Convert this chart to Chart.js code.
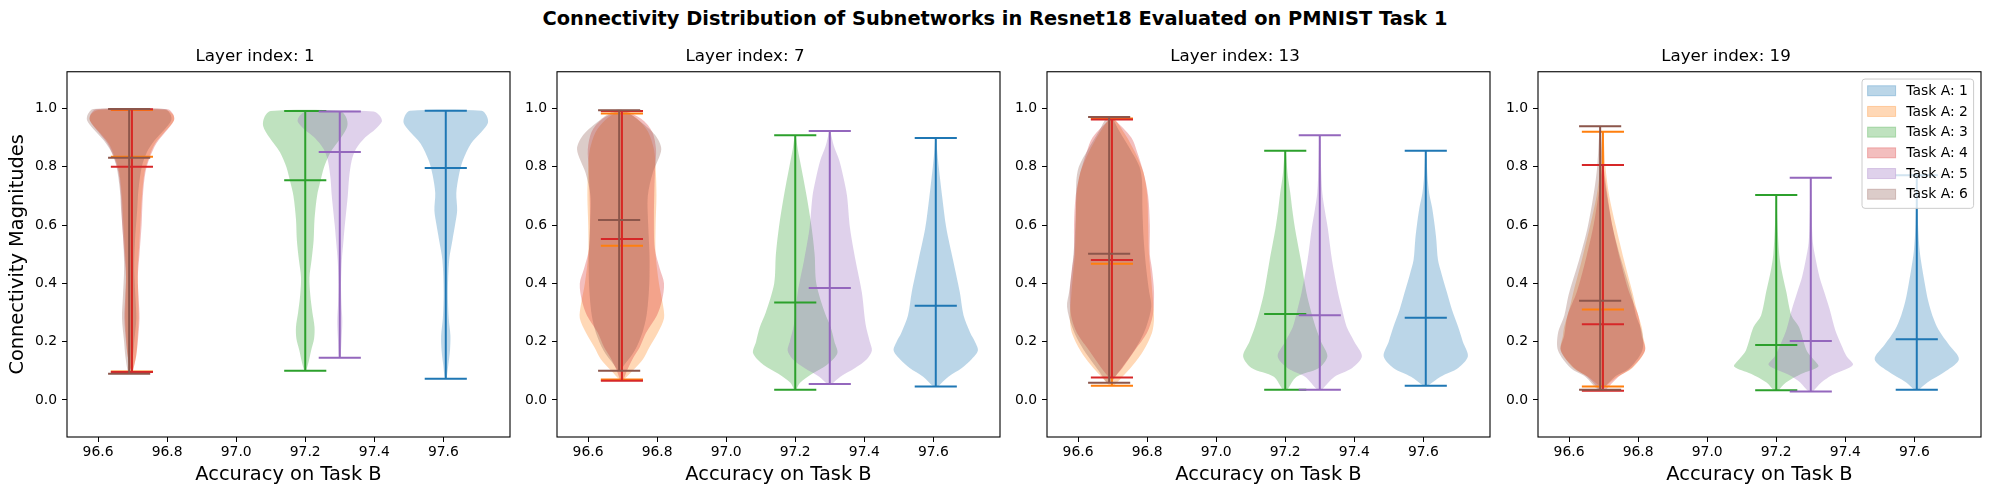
<!DOCTYPE html>
<html>
<head>
<meta charset="utf-8">
<script src="https://cdn.jsdelivr.net/npm/chart.js@4.4.0/dist/chart.umd.min.js"></script>
<style>
    body { margin: 0; background: #fff; width: 1990px; height: 495px; position: relative; overflow: hidden; font-family: "DejaVu Sans", sans-serif; }
    #suptitle { position: absolute; left: 0; top: 8px; width: 1990px; text-align: center; font-weight: bold; font-size: 19.4px; line-height: 22px; color: #000; }
    canvas { position: absolute; }
</style>
</head>
<body>
<div id="suptitle">Connectivity Distribution of Subnetworks in Resnet18 Evaluated on PMNIST Task 1</div>
<script>
// ---- data -------------------------------------------------------------
const LAYERS = [1, 7, 13, 19];
const TASK_LABELS = ['Task A: 1', 'Task A: 2', 'Task A: 3', 'Task A: 4', 'Task A: 5', 'Task A: 6'];
const TASK_COLORS = ['#1f77b4', '#ff7f0e', '#2ca02c', '#d62728', '#9467bd', '#8c564b'];
// accuracy on task B for each task A (violin positions)
const POSITIONS = [97.607, 96.698, 97.2, 96.698, 97.3, 96.69];

const X_TICKS = [96.6, 96.8, 97.0, 97.2, 97.4, 97.6];
const Y_TICKS = [0.0, 0.2, 0.4, 0.6, 0.8, 1.0];

// min / max / mean per task, one list per layer
const MIN_L1 = [0.073, 0.098, 0.100, 0.096, 0.145, 0.090];
const MAX_L1 = [0.992, 0.995, 0.991, 0.997, 0.990, 0.998];
const MEAN_L1 = [0.796, 0.834, 0.754, 0.800, 0.851, 0.831];

const MIN_L7 = [0.046, 0.070, 0.035, 0.066, 0.055, 0.100];
const MAX_L7 = [0.899, 0.983, 0.908, 0.991, 0.923, 0.994];
const MEAN_L7 = [0.323, 0.529, 0.334, 0.552, 0.384, 0.617];

const MIN_L13 = [0.049, 0.049, 0.035, 0.077, 0.035, 0.059];
const MAX_L13 = [0.855, 0.966, 0.855, 0.962, 0.908, 0.971];
const MEAN_L13 = [0.282, 0.467, 0.295, 0.480, 0.291, 0.502];

const MIN_L19 = [0.035, 0.046, 0.033, 0.032, 0.029, 0.035];
const MAX_L19 = [0.771, 0.920, 0.703, 0.806, 0.762, 0.939];
const MEAN_L19 = [0.208, 0.310, 0.189, 0.260, 0.202, 0.340];

// density outlines: [magnitude, relative half width]
const L1_T1 = [[0.073,0.02],[0.12,0.06],[0.17,0.10],[0.22,0.11],[0.28,0.07],[0.37,0.05],[0.48,0.08],[0.55,0.16],[0.60,0.22],[0.65,0.27],[0.71,0.25],[0.77,0.31],[0.82,0.40],[0.88,0.60],[0.92,0.85],[0.95,1.0],[0.975,0.97],[0.992,0.85]];
const L1_T2 = [[0.098,0.02],[0.15,0.10],[0.20,0.13],[0.28,0.16],[0.35,0.15],[0.45,0.14],[0.50,0.16],[0.60,0.20],[0.70,0.24],[0.78,0.30],[0.83,0.40],[0.88,0.55],[0.92,0.78],[0.96,1.0],[0.98,0.97],[0.995,0.80]];
const L1_T3 = [[0.100,0.02],[0.13,0.08],[0.17,0.14],[0.21,0.21],[0.25,0.22],[0.30,0.17],[0.36,0.12],[0.42,0.10],[0.48,0.15],[0.55,0.20],[0.62,0.22],[0.70,0.28],[0.75,0.36],[0.80,0.45],[0.85,0.60],[0.90,0.85],[0.94,1.0],[0.97,0.97],[0.991,0.82]];
const L1_T4 = [[0.096,0.02],[0.15,0.10],[0.20,0.14],[0.28,0.18],[0.35,0.16],[0.42,0.14],[0.50,0.18],[0.60,0.23],[0.70,0.26],[0.78,0.32],[0.83,0.42],[0.88,0.58],[0.92,0.80],[0.96,1.0],[0.98,0.98],[0.997,0.85]];
const L1_T5 = [[0.145,0.02],[0.20,0.04],[0.27,0.06],[0.33,0.04],[0.40,0.03],[0.48,0.05],[0.55,0.09],[0.60,0.12],[0.70,0.19],[0.76,0.22],[0.82,0.28],[0.86,0.38],[0.90,0.60],[0.93,0.85],[0.955,1.0],[0.975,0.95],[0.990,0.80]];
const L1_T6 = [[0.090,0.02],[0.15,0.09],[0.20,0.12],[0.28,0.17],[0.35,0.15],[0.45,0.12],[0.55,0.14],[0.65,0.19],[0.72,0.22],[0.80,0.30],[0.85,0.42],[0.89,0.60],[0.93,0.85],[0.96,1.0],[0.98,0.98],[0.998,0.85]];

const L7_T1 = [[0.046,0.05],[0.08,0.30],[0.11,0.62],[0.14,0.85],[0.17,1.0],[0.20,0.93],[0.23,0.82],[0.29,0.66],[0.37,0.57],[0.48,0.41],[0.59,0.25],[0.70,0.15],[0.80,0.07],[0.86,0.03],[0.899,0.01]];
const L7_T2 = [[0.070,0.05],[0.10,0.25],[0.14,0.50],[0.18,0.65],[0.23,0.85],[0.28,1.0],[0.33,0.97],[0.40,0.88],[0.50,0.80],[0.60,0.80],[0.70,0.82],[0.80,0.80],[0.86,0.76],[0.92,0.62],[0.96,0.40],[0.983,0.15]];
const L7_T3 = [[0.035,0.02],[0.06,0.12],[0.09,0.40],[0.12,0.75],[0.16,1.0],[0.20,0.93],[0.25,0.84],[0.30,0.70],[0.40,0.50],[0.50,0.46],[0.60,0.38],[0.70,0.27],[0.80,0.14],[0.86,0.06],[0.908,0.01]];
const L7_T4 = [[0.066,0.03],[0.10,0.12],[0.14,0.25],[0.18,0.42],[0.23,0.57],[0.29,0.83],[0.34,0.95],[0.40,1.0],[0.45,0.90],[0.52,0.78],[0.62,0.76],[0.72,0.77],[0.80,0.79],[0.86,0.81],[0.92,0.72],[0.96,0.50],[0.991,0.10]];
const L7_T5 = [[0.055,0.05],[0.08,0.25],[0.11,0.60],[0.14,0.88],[0.17,1.0],[0.20,0.95],[0.26,0.85],[0.37,0.76],[0.48,0.61],[0.59,0.48],[0.70,0.41],[0.76,0.33],[0.82,0.23],[0.87,0.10],[0.923,0.01]];
const L7_T6 = [[0.100,0.02],[0.12,0.12],[0.17,0.37],[0.23,0.55],[0.29,0.65],[0.36,0.70],[0.42,0.72],[0.50,0.72],[0.60,0.69],[0.70,0.68],[0.78,0.80],[0.86,1.0],[0.91,0.85],[0.96,0.46],[0.994,0.10]];

const L13_T1 = [[0.049,0.05],[0.08,0.35],[0.11,0.77],[0.15,1.0],[0.20,0.88],[0.25,0.77],[0.31,0.62],[0.37,0.50],[0.43,0.38],[0.48,0.29],[0.55,0.25],[0.60,0.21],[0.66,0.15],[0.71,0.08],[0.77,0.04],[0.855,0.01]];
const L13_T2 = [[0.049,0.05],[0.08,0.25],[0.12,0.50],[0.17,0.75],[0.23,0.95],[0.28,1.0],[0.35,0.97],[0.42,0.93],[0.50,0.88],[0.60,0.86],[0.70,0.84],[0.78,0.75],[0.85,0.55],[0.91,0.32],[0.966,0.05]];
const L13_T3 = [[0.035,0.05],[0.08,0.27],[0.11,0.80],[0.15,1.0],[0.20,0.85],[0.25,0.72],[0.31,0.60],[0.37,0.50],[0.48,0.37],[0.59,0.23],[0.65,0.17],[0.71,0.12],[0.77,0.06],[0.855,0.01]];
const L13_T4 = [[0.077,0.05],[0.11,0.25],[0.17,0.54],[0.23,0.83],[0.29,0.97],[0.37,1.0],[0.45,0.95],[0.50,0.90],[0.60,0.90],[0.70,0.86],[0.78,0.75],[0.85,0.60],[0.90,0.46],[0.962,0.05]];
const L13_T5 = [[0.035,0.05],[0.08,0.35],[0.11,0.77],[0.15,1.0],[0.20,0.82],[0.25,0.64],[0.31,0.53],[0.37,0.43],[0.48,0.29],[0.59,0.19],[0.65,0.12],[0.71,0.06],[0.80,0.03],[0.908,0.01]];
const L13_T6 = [[0.059,0.05],[0.10,0.25],[0.15,0.50],[0.20,0.72],[0.25,0.88],[0.32,1.0],[0.37,0.95],[0.45,0.88],[0.55,0.82],[0.65,0.79],[0.75,0.78],[0.80,0.72],[0.86,0.50],[0.92,0.25],[0.971,0.05]];

const L19_T1 = [[0.035,0.05],[0.06,0.25],[0.10,0.70],[0.14,1.0],[0.19,0.76],[0.24,0.52],[0.29,0.37],[0.34,0.27],[0.40,0.19],[0.45,0.13],[0.51,0.07],[0.60,0.03],[0.70,0.015],[0.771,0.005]];
const L19_T2 = [[0.046,0.05],[0.08,0.35],[0.11,0.70],[0.17,1.0],[0.22,0.95],[0.25,0.92],[0.31,0.80],[0.37,0.70],[0.48,0.50],[0.60,0.30],[0.70,0.15],[0.80,0.06],[0.920,0.01]];
const L19_T3 = [[0.033,0.05],[0.06,0.23],[0.09,0.60],[0.115,1.0],[0.14,0.88],[0.17,0.72],[0.25,0.54],[0.29,0.36],[0.37,0.24],[0.45,0.12],[0.50,0.07],[0.60,0.03],[0.703,0.005]];
const L19_T4 = [[0.032,0.05],[0.08,0.37],[0.11,0.68],[0.17,1.0],[0.22,0.92],[0.29,0.84],[0.37,0.62],[0.48,0.41],[0.60,0.22],[0.71,0.10],[0.806,0.01]];
const L19_T5 = [[0.029,0.05],[0.06,0.25],[0.085,0.50],[0.12,1.0],[0.15,0.85],[0.19,0.72],[0.24,0.58],[0.31,0.45],[0.37,0.32],[0.42,0.21],[0.48,0.12],[0.54,0.05],[0.65,0.02],[0.762,0.005]];
const L19_T6 = [[0.035,0.05],[0.08,0.35],[0.11,0.70],[0.17,1.0],[0.23,1.0],[0.29,0.85],[0.36,0.75],[0.48,0.50],[0.59,0.30],[0.71,0.15],[0.80,0.07],[0.939,0.01]];

// ---- layout -----------------------------------------------------------
const X_MIN = 96.51, X_MAX = 97.793;
const Y_MIN = -0.127, Y_MAX = 1.126;
const HALF_WIDTH = 0.122;   // violin half width in x units
const CAP = 0.061;          // half length of min/max/mean bars
const FONT = '"DejaVu Sans", sans-serif';

const panels = [
    { layer: LAYERS[0], mins: MIN_L1, maxs: MAX_L1, means: MEAN_L1, shapes: [L1_T1, L1_T2, L1_T3, L1_T4, L1_T5, L1_T6] },
    { layer: LAYERS[1], mins: MIN_L7, maxs: MAX_L7, means: MEAN_L7, shapes: [L7_T1, L7_T2, L7_T3, L7_T4, L7_T5, L7_T6] },
    { layer: LAYERS[2], mins: MIN_L13, maxs: MAX_L13, means: MEAN_L13, shapes: [L13_T1, L13_T2, L13_T3, L13_T4, L13_T5, L13_T6] },
    { layer: LAYERS[3], mins: MIN_L19, maxs: MAX_L19, means: MEAN_L19, shapes: [L19_T1, L19_T2, L19_T3, L19_T4, L19_T5, L19_T6] }
];

function rgba(hex, a) {
    const n = parseInt(hex.slice(1), 16);
    return `rgba(${(n >> 16) & 255},${(n >> 8) & 255},${n & 255},${a})`;
}

// frame around the plot area, plus the legend on the last panel
const framePlugin = {
    id: 'frame',
    afterDraw(chart) {
        const { ctx, chartArea: a } = chart;
        ctx.save();
        ctx.strokeStyle = '#000';
        ctx.lineWidth = 1.1;
        ctx.strokeRect(a.left, a.top, a.right - a.left, a.bottom - a.top);

        if (chart.options.plugins.frame && chart.options.plugins.frame.legend) {
            const w = 111.6, h = 129.3;
            const x0 = a.right - 7.4 - w, y0 = a.top + 7.3;
            ctx.fillStyle = 'rgba(255,255,255,0.8)';
            ctx.strokeStyle = '#cccccc';
            ctx.lineWidth = 1;
            ctx.beginPath();
            ctx.roundRect(x0, y0, w, h, 3);
            ctx.fill();
            ctx.stroke();
            ctx.font = `13.9px ${FONT}`;
            ctx.textBaseline = 'middle';
            TASK_LABELS.forEach((label, k) => {
                const cy = y0 + 11.7 + k * 20.7;
                ctx.fillStyle = rgba(TASK_COLORS[k], 0.3);
                ctx.fillRect(x0 + 5.6, cy - 5, 28, 10);
                ctx.strokeStyle = rgba(TASK_COLORS[k], 0.3);
                ctx.strokeRect(x0 + 5.6, cy - 5, 28, 10);
                ctx.fillStyle = '#000';
                ctx.fillText(label, x0 + 44.3, cy + 0.5);
            });
        }
        ctx.restore();
    }
};

function buildDatasets(panel) {
    const datasets = [];
    TASK_LABELS.forEach((label, k) => {
        const pos = POSITIONS[k];
        const prof = panel.shapes[k];
        const right = prof.map(([y, w]) => ({ x: pos + w * HALF_WIDTH, y }));
        const left = prof.slice().reverse().map(([y, w]) => ({ x: pos - w * HALF_WIDTH, y }));
        datasets.push({
            label: label,
            data: right.concat(left, [right[0]]),
            showLine: true,
            fill: 'shape',
            backgroundColor: rgba(TASK_COLORS[k], 0.3),
            borderColor: 'rgba(0,0,0,0)',
            borderWidth: 1,
            pointRadius: 0,
            tension: 0.3,
            order: 100 - k
        });

        const mn = panel.mins[k], mx = panel.maxs[k], me = panel.means[k];
        const gap = { x: pos, y: NaN };
        datasets.push({
            label: label + ' lines',
            data: [
                { x: pos, y: mn }, { x: pos, y: mx }, gap,
                { x: pos - CAP, y: mx }, { x: pos + CAP, y: mx }, gap,
                { x: pos - CAP, y: mn }, { x: pos + CAP, y: mn }, gap,
                { x: pos - CAP, y: me }, { x: pos + CAP, y: me }
            ],
            showLine: true,
            fill: false,
            borderColor: TASK_COLORS[k],
            borderWidth: 2,
            pointRadius: 0,
            tension: 0,
            spanGaps: false,
            order: 10 - k
        });
    });
    return datasets;
}

const AXIS_LEFT = 67, PLOT_W = 443, CANVAS_W = 520, CANVAS_H = 448;
const CANVAS_LEFTS = [0, 490, 980, 1471];

panels.forEach((panel, i) => {
    const canvas = document.createElement('canvas');
    canvas.width = CANVAS_W;
    canvas.height = CANVAS_H;
    canvas.style.left = CANVAS_LEFTS[i] + 'px';
    canvas.style.top = '47px';
    document.body.appendChild(canvas);

    new Chart(canvas.getContext('2d'), {
        type: 'scatter',
        data: { datasets: buildDatasets(panel) },
        options: {
            responsive: false,
            animation: false,
            layout: { padding: { left: 0, right: CANVAS_W - AXIS_LEFT - PLOT_W, top: 0, bottom: 0 } },
            plugins: {
                legend: { display: false },
                tooltip: { enabled: false },
                title: {
                    display: true,
                    text: 'Layer index: ' + panel.layer,
                    color: '#000',
                    font: { family: FONT, size: 16.7, weight: 'normal' },
                    padding: { top: 0, bottom: 4.7 }
                },
                frame: { legend: i === 3 }
            },
            scales: {
                x: {
                    type: 'linear',
                    min: X_MIN,
                    max: X_MAX,
                    afterBuildTicks: s => { s.ticks = X_TICKS.map(v => ({ value: v })); },
                    afterFit: s => { s.height = 58; },
                    ticks: {
                        color: '#000',
                        font: { family: FONT, size: 13.9 },
                        padding: 2.5,
                        maxRotation: 0,
                        autoSkip: false,
                        callback: v => Number(v).toFixed(1)
                    },
                    grid: { drawOnChartArea: false, drawTicks: true, tickLength: 5, color: '#000' },
                    border: { display: false },
                    title: {
                        display: true,
                        text: 'Accuracy on Task B',
                        color: '#000',
                        font: { family: FONT, size: 19.4 },
                        padding: { top: 0, bottom: 8.4 }
                    }
                },
                y: {
                    type: 'linear',
                    min: Y_MIN,
                    max: Y_MAX,
                    afterBuildTicks: s => { s.ticks = Y_TICKS.map(v => ({ value: v })); },
                    afterFit: s => { s.width = AXIS_LEFT; },
                    ticks: {
                        color: '#000',
                        font: { family: FONT, size: 13.9 },
                        padding: 5,
                        autoSkip: false,
                        callback: v => Number(v).toFixed(1)
                    },
                    grid: { drawOnChartArea: false, drawTicks: true, tickLength: 5, color: '#000' },
                    border: { display: false },
                    title: {
                        display: i === 0,
                        text: 'Connectivity Magnitudes',
                        color: '#000',
                        font: { family: FONT, size: 19.4 },
                        padding: { top: 6, bottom: 0 }
                    }
                }
            }
        },
        plugins: [framePlugin]
    });
});
</script>
</body>
</html>
